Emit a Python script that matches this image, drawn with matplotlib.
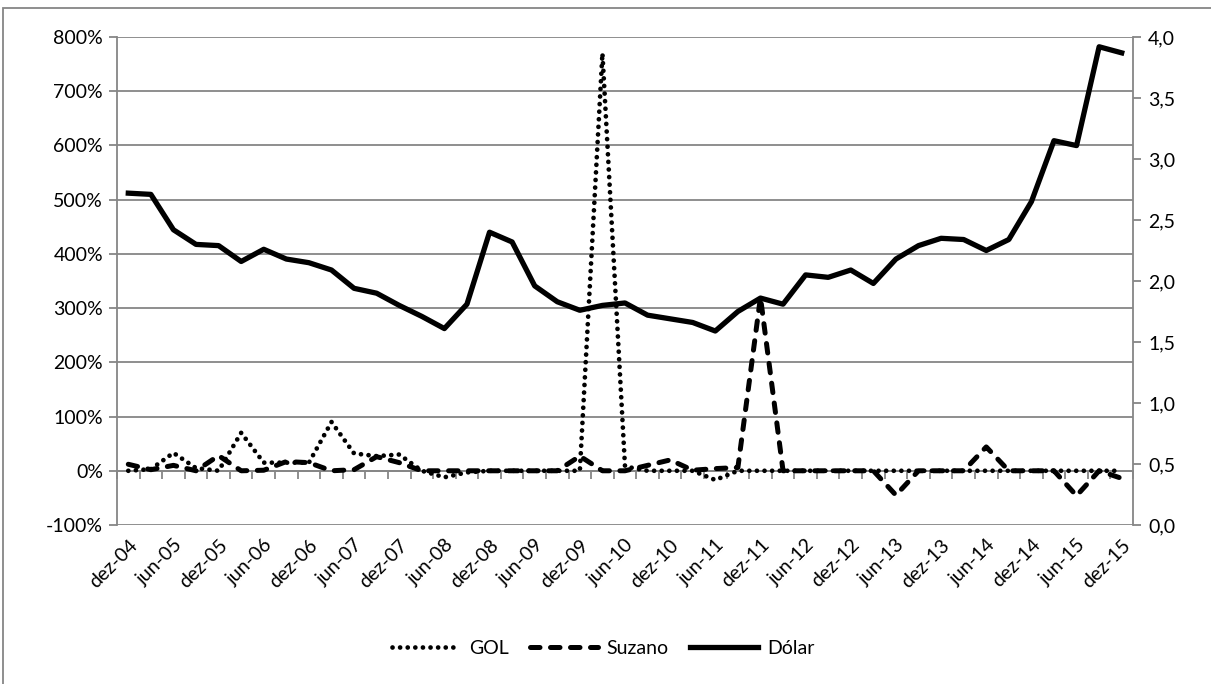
import matplotlib.pyplot as plt
from matplotlib.lines import Line2D
from matplotlib.patches import Rectangle
from matplotlib.ticker import FuncFormatter, FixedLocator

plt.rcParams['font.family'] = ['Lato', 'DejaVu Sans']

# trimestres de dez-04 a dez-15
periodos = []
for ano in range(4, 16):
    for mes in ['mar', 'jun', 'set', 'dez']:
        if ano == 4 and mes != 'dez':
            continue
        periodos.append(f"{mes}-{ano:02d}")

# variação (%) - eixo principal
gol = [0, 3, 33, 5, 0, 70, 15, 15, 15, 90, 32, 27, 30, 0, -12, -3,
       0, 0, 0, 0, 0, 770, 8, 0, 0, 0, -17, 0, 0, 0, 0, 0,
       0, 0, 0, 0, 0, 0, 0, 0, 0, 0, 0, 0, 0]
suzano = [12, 2, 10, 0, 28, 0, 1, 17, 15, 0, 2, 26, 15, 0, 0, 0,
          0, 0, 0, 0, 27, 0, 0, 10, 20, 1, 4, 6, 320, 0, 0, 0,
          0, 0, -45, 0, 0, 0, 44, 0, 0, 0, -46, 0, -14]
# dólar (R$) - eixo secundário
dolar = [2.72, 2.71, 2.42, 2.30, 2.29, 2.16, 2.26, 2.18, 2.15, 2.09, 1.94, 1.90,
         1.80, 1.71, 1.61, 1.81, 2.40, 2.32, 1.96, 1.83, 1.76, 1.80, 1.82, 1.72,
         1.69, 1.66, 1.59, 1.75, 1.86, 1.81, 2.05, 2.03, 2.09, 1.98, 2.18, 2.29,
         2.35, 2.34, 2.25, 2.34, 2.65, 3.15, 3.11, 3.92, 3.87]

cinza = '#868686'
x = list(range(len(periodos)))
estilo_gol = dict(color='black', lw=3.4, linestyle=(0, (0.01, 1.6)), dash_capstyle='round')
estilo_suz = dict(color='black', lw=3.6, linestyle=(0, (1.9, 2.1)), dash_capstyle='round')
estilo_dol = dict(color='black', lw=3.8)

fig = plt.figure(figsize=(12.11, 6.84), dpi=100)
ax = fig.add_axes([117 / 1211, 1 - 525 / 684, 1016 / 1211, 488 / 684])

ax.plot(x, gol, label='GOL', **estilo_gol)
ax.plot(x, suzano, label='Suzano', **estilo_suz)

ax.set_xlim(-0.5, len(periodos) - 0.5)
ax.set_ylim(-100, 800)
ax.set_yticks(range(-100, 801, 100))
ax.yaxis.set_major_formatter(FuncFormatter(lambda v, p: f"{v:.0f}%"))
ax.grid(axis='y', color=cinza, lw=1.3)
ax.set_axisbelow(True)
for s in ['top', 'bottom', 'right']:
    ax.spines[s].set_visible(False)
ax.spines['left'].set_color(cinza)
ax.spines['left'].set_linewidth(1.3)
ax.tick_params(axis='y', colors=cinza, length=6, width=1.3, labelcolor='black',
               labelsize=14, pad=4)

# rótulos das categorias em baixo
ax.set_xticks(x[::2])
ax.set_xticklabels(periodos[::2], rotation=45, ha='right', va='top',
                   rotation_mode='anchor', fontsize=14)
ax.tick_params(axis='x', length=0, pad=8)

# eixo de categorias passando no 0%
eixo0 = ax.secondary_xaxis(1 / 9)
eixo0.xaxis.set_major_locator(FixedLocator([i - 0.5 for i in range(len(periodos) + 1)]))
eixo0.tick_params(axis='x', direction='out', length=6, width=1.3, colors=cinza,
                  labelbottom=False)
eixo0.spines['bottom'].set_color(cinza)
eixo0.spines['bottom'].set_linewidth(1.3)

ax2 = ax.twinx()
ax2.plot(x, dolar, label='Dólar', **estilo_dol)
ax2.set_ylim(0, 4)
ax2.set_yticks([i * 0.5 for i in range(9)])
ax2.yaxis.set_major_formatter(FuncFormatter(lambda v, p: f"{v:.1f}".replace('.', ',')))
for s in ['top', 'bottom', 'left']:
    ax2.spines[s].set_visible(False)
ax2.spines['right'].set_color(cinza)
ax2.spines['right'].set_linewidth(1.3)
ax2.tick_params(axis='y', colors=cinza, length=6, width=1.3, labelcolor='black',
                labelsize=14, pad=5)

handles = [Line2D([], [], **estilo_gol), Line2D([], [], **estilo_suz), Line2D([], [], **estilo_dol)]
fig.legend(handles, ['GOL', 'Suzano', 'Dólar'], loc='center', bbox_to_anchor=(0.498, 0.052),
           ncol=3, frameon=False, fontsize=14, handlelength=3.5, columnspacing=1.1,
           handletextpad=0.45)

# borda da área do gráfico
fig.patches.append(Rectangle((3 / 1211, -0.01), 1.2, 1.0 - 8 / 684 + 0.01,
                             transform=fig.transFigure, fill=False,
                             edgecolor=cinza, lw=1.3))

fig.savefig('out.png', dpi=100)
